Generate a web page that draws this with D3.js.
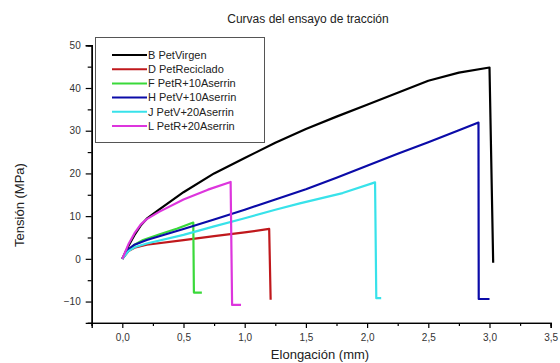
<!DOCTYPE html>
<html>
<head>
<meta charset="utf-8">
<script src="https://cdn.jsdelivr.net/npm/d3@7"></script>
<style>
  body { margin: 0; background: #fff; }
  svg { font-family: "Liberation Sans", Arial, sans-serif; }
</style>
</head>
<body>
<div id="chart"></div>
<script>
// series: [elongacion (mm), tension (MPa)]
var seriesNames = ["B PetVirgen", "D PetReciclado", "F PetR+10Aserrin", "H PetV+10Aserrin", "J PetV+20Aserrin", "L PetR+20Aserrin"];
var seriesColors = ["#000000", "#c0181c", "#3ad93a", "#0b0ba8", "#38e2ea", "#dd35dd"];

var petVirgen = [[0,0],[0.05,3],[0.1,5.6],[0.15,7.8],[0.2,9.4],[0.3,11.5],[0.5,15.6],[0.75,20],[1.0,23.6],[1.25,27.2],[1.5,30.4],[1.75,33.3],[2.0,36.1],[2.25,38.9],[2.5,41.7],[2.75,43.6],[3.0,44.8],[3.03,-0.9]];
var petReciclado = [[0,0],[0.05,1.8],[0.1,2.6],[0.2,3.3],[0.5,4.4],[0.75,5.3],[1.0,6.2],[1.2,7.0],[1.212,-9.6]];
var petR10 = [[0,0],[0.05,2.1],[0.1,3.3],[0.17,4.4],[0.3,5.7],[0.45,7.1],[0.58,8.5],[0.585,-7.9],[0.65,-7.9]];
var petV10 = [[0,0],[0.05,2.2],[0.1,3.3],[0.2,4.4],[0.35,5.7],[0.5,7.0],[0.75,9.2],[1.0,11.5],[1.25,13.9],[1.5,16.3],[1.75,19],[2.0,21.8],[2.25,24.6],[2.5,27.3],[2.75,30.1],[2.91,31.9],[2.912,-9.4],[3.0,-9.4]];
var petV20 = [[0,0],[0.05,1.8],[0.1,2.7],[0.2,3.6],[0.5,5.6],[0.75,7.6],[1.0,9.5],[1.25,11.5],[1.45,13.0],[1.8,15.4],[2.065,17.9],[2.075,-9.2],[2.115,-9.2]];
var petR20 = [[0,0],[0.05,3.4],[0.1,6],[0.15,8],[0.2,9.3],[0.3,11],[0.5,13.9],[0.7,16.2],[0.885,18.0],[0.897,-10.8],[0.97,-10.8]];

var allSeries = [petVirgen, petReciclado, petR10, petV10, petV20, petR20];

var xMajor = [0, 0.5, 1.0, 1.5, 2.0, 2.5, 3.0, 3.5];
var yMajor = [-10, 0, 10, 20, 30, 40, 50];

var svgWidth = 560;
var svgHeight = 363;

var svg = d3.select("#chart").append("svg")
    .attr("width", svgWidth)
    .attr("height", svgHeight);

var xScale = d3.scaleLinear()
  .domain([-0.25, 3.5])
  .range([91.7, 550.7]);

var yScale = d3.scaleLinear()
  .domain([-15, 50])
  .range([322.9, 45.3]);

var fmt = function(d) { return d3.format(".1f")(d).replace(".", ","); };

// minor ticks
var xMinor = d3.range(-0.25, 3.5, 0.5).map(function(d) { return +d.toFixed(2); });
var yMinor = d3.range(-15, 50, 10);

var xAxisG = svg.append("g")
  .attr("transform", "translate(0," + yScale(-15) + ")");
xAxisG.call(d3.axisBottom(xScale).tickValues(xMinor).tickSize(3).tickFormat(""));
xAxisG.append("g")
  .call(d3.axisBottom(xScale).tickValues(xMajor).tickSize(5).tickPadding(6).tickFormat(fmt));

var yAxisG = svg.append("g")
  .attr("transform", "translate(" + xScale(-0.25) + ",0)");
yAxisG.call(d3.axisLeft(yScale).tickValues(yMinor).tickSize(4).tickFormat(""));
yAxisG.append("g")
  .call(d3.axisLeft(yScale).tickValues(yMajor).tickSize(6).tickPadding(5));

svg.selectAll(".domain").attr("stroke", "#000").attr("stroke-width", 1.4);
svg.selectAll(".tick line").attr("stroke", "#000").attr("stroke-width", 1.2);
svg.selectAll(".tick text").attr("fill", "#333").style("font-size", "10px")
  .style("font-family", "'Liberation Sans', Arial, sans-serif");

// curves (straight segments, the breaks are vertical drops)
var line = d3.line()
  .x(function(d) { return xScale(d[0]); })
  .y(function(d) { return yScale(d[1]); });

svg.append("g").selectAll("path")
  .data(allSeries)
  .enter()
  .append("path")
    .attr("d", line)
    .attr("fill", "none")
    .attr("stroke", function(d, i) { return seriesColors[i]; })
    .attr("stroke-width", 2.2)
    .attr("stroke-linejoin", "round");

// legend
var legend = svg.append("g");
legend.append("rect")
  .attr("x", 95.5).attr("y", 37.5)
  .attr("width", 169).attr("height", 105)
  .attr("fill", "#fff").attr("stroke", "#555").attr("stroke-width", 1);

var legendItems = legend.selectAll(".item")
  .data(seriesNames)
  .enter()
  .append("g")
    .attr("transform", function(d, i) { return "translate(112," + (55 + i * 14.2) + ")"; });

legendItems.append("line")
  .attr("x1", 0).attr("x2", 35)
  .attr("stroke", function(d, i) { return seriesColors[i]; })
  .attr("stroke-width", 2);

legendItems.append("text")
  .attr("x", 36).attr("dy", "0.35em")
  .style("font-size", "11px")
  .attr("fill", "#222")
  .text(function(d) { return d; });

// titles
svg.append("text")
  .attr("x", 308).attr("y", 23)
  .attr("text-anchor", "middle")
  .style("font-size", "12px")
  .attr("fill", "#222")
  .text("Curvas del ensayo de tracción");

svg.append("text")
  .attr("x", 320).attr("y", 359)
  .attr("text-anchor", "middle")
  .style("font-size", "13px")
  .attr("fill", "#222")
  .text("Elongación (mm)");

svg.append("text")
  .attr("transform", "translate(24,205) rotate(-90)")
  .attr("text-anchor", "middle")
  .style("font-size", "13px")
  .attr("fill", "#222")
  .text("Tensión (MPa)");
</script>
</body>
</html>
